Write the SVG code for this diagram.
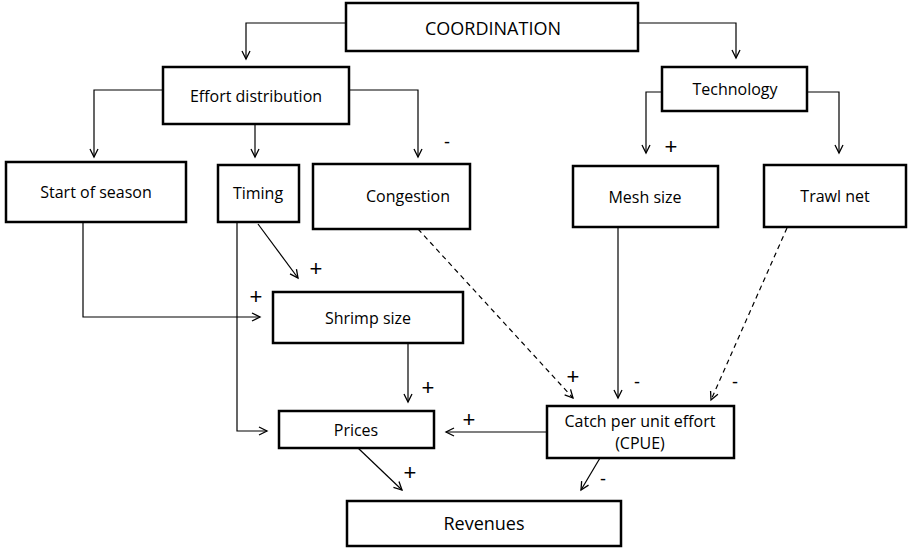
<svg xmlns="http://www.w3.org/2000/svg" width="908" height="548" viewBox="0 0 908 548">
<defs>
<marker id="arr" markerUnits="userSpaceOnUse" markerWidth="12" markerHeight="12" refX="9" refY="6" orient="auto" viewBox="0 0 12 12">
<path d="M1,2 L9,6 L1,10" fill="none" stroke="#000" stroke-width="1.3"/>
</marker>
</defs>
<style>
.box{fill:#fff;stroke:#000;stroke-width:2.5}
.t{font-family:"Open Sans","Liberation Sans",sans-serif;font-size:16px;fill:#000;text-anchor:middle;dominant-baseline:central}
.big{font-size:18px}
.c{fill:none;stroke:#000;stroke-width:1.2;marker-end:url(#arr)}
.d{stroke-dasharray:5,4}
.s{font-family:"Liberation Sans",sans-serif;font-size:22px;fill:#000;text-anchor:middle;dominant-baseline:central}
.m{font-family:"Liberation Sans",sans-serif;font-size:18px;fill:#000;text-anchor:middle;dominant-baseline:central}
</style>
<rect width="908" height="548" fill="#fff"/>
<g id="connectors">
<path class="c" d="M346,23 H246 V59"/>
<path class="c" d="M638,23 H736 V58"/>
<path class="c" d="M163,90 H94 V157"/>
<path class="c" d="M255,124 V157"/>
<path class="c" d="M349,90 H418 V157"/>
<path class="c" d="M662,92 H646 V153"/>
<path class="c" d="M807,92 H839 V153"/>
<path class="c" d="M83,222 V317 H260"/>
<path class="c" d="M258,224 L298,278"/>
<path class="c" d="M237,222 V431 H267"/>
<path class="c" d="M408,343 V402"/>
<path class="c d" d="M418,229 L573,398"/>
<path class="c" d="M618,227 V398"/>
<path class="c d" d="M787,228 L711,400"/>
<path class="c" d="M547,432 H446"/>
<path class="c" d="M358,448 L402,490"/>
<path class="c" d="M600,458 L581,490"/>
<text class="m" x="447" y="142">-</text>
<text class="s" x="671" y="146">+</text>
<text class="s" x="316" y="268">+</text>
<text class="s" x="256" y="296">+</text>
<text class="s" x="428" y="387">+</text>
<text class="s" x="573" y="376">+</text>
<text class="m" x="637" y="382">-</text>
<text class="m" x="735" y="382">-</text>
<text class="s" x="469" y="419">+</text>
<text class="s" x="410" y="472">+</text>
<text class="m" x="603" y="479">-</text>
</g>
<g id="coordination"><rect class="box" x="346" y="3" width="292" height="48"/><text class="t big" x="493" y="28">COORDINATION</text></g>
<g id="effort"><rect class="box" x="163" y="67" width="186" height="57"/><text class="t" x="256" y="96">Effort distribution</text></g>
<g id="technology"><rect class="box" x="662" y="67" width="145" height="44"/><text class="t" x="735" y="89">Technology</text></g>
<g id="start"><rect class="box" x="6" y="162" width="180" height="60"/><text class="t" x="96" y="192">Start of season</text></g>
<g id="timing"><rect class="box" x="218" y="165" width="81" height="57"/><text class="t" x="258" y="193">Timing</text></g>
<g id="congestion"><rect class="box" x="313" y="164" width="157" height="65"/><text class="t" x="408" y="196">Congestion</text></g>
<g id="mesh"><rect class="box" x="573" y="166" width="145" height="61"/><text class="t" x="645" y="197">Mesh size</text></g>
<g id="trawl"><rect class="box" x="764" y="165" width="142" height="62"/><text class="t" x="835" y="196">Trawl net</text></g>
<g id="shrimp"><rect class="box" x="273" y="292" width="190" height="51"/><text class="t" x="368" y="318">Shrimp size</text></g>
<g id="prices"><rect class="box" x="279" y="411" width="155" height="37"/><text class="t" x="356" y="430">Prices</text></g>
<g id="cpue"><rect class="box" x="547" y="406" width="187" height="52"/><text class="t" x="640" y="421">Catch per unit effort</text><text class="t" x="640" y="443">(CPUE)</text></g>
<g id="revenues"><rect class="box" x="347" y="501" width="274" height="45"/><text class="t big" x="484" y="523">Revenues</text></g>
</svg>
